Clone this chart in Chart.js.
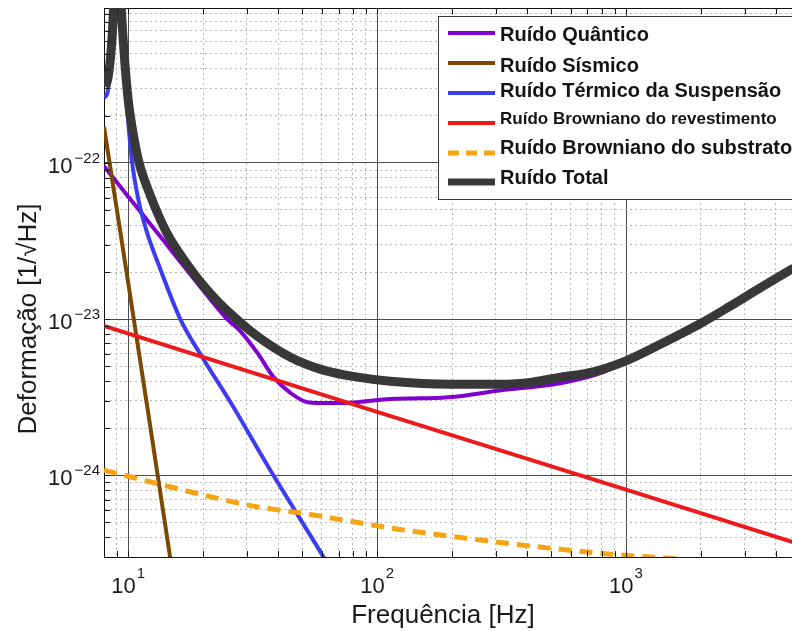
<!DOCTYPE html>
<html><head><meta charset="utf-8">
<script src="https://cdn.jsdelivr.net/npm/chart.js@4.4.1/dist/chart.umd.min.js"></script>
<style>
html,body{margin:0;padding:0;background:#fff;overflow:hidden;width:792px;height:631px}
#wrap{width:792px;height:631px;overflow:hidden;position:relative}
canvas{display:block}
</style></head>
<body><div id="wrap"><canvas id="c" width="800" height="631"></canvas></div>
<script>
// ---------------- data ----------------
const seriesLabels = ['Ruído Quântico','Ruído Sísmico','Ruído Térmico da Suspensão','Ruído Browniano do revestimento','Ruído Browniano do substrato','Ruído Total'];

const quantumHz = [8, 10, 12, 15, 20, 25, 28, 33, 38.4, 45, 52.6, 65, 83.5, 113, 150, 200, 314, 500, 620, 800, 1000, 1400, 2000, 2600, 3500, 4600, 5000];
const quantumStrain = [9.5e-23, 6.1e-23, 4.25e-23, 2.72e-23, 1.53e-23, 1.0e-23, 8.5e-24, 6.1e-24, 4.25e-24, 3.36e-24, 2.94e-24, 2.9e-24, 2.94e-24, 3.08e-24, 3.11e-24, 3.17e-24, 3.5e-24, 3.8e-24, 4.06e-24, 4.55e-24, 5.35e-24, 6.9e-24, 9.35e-24, 1.19e-23, 1.59e-23, 2.06e-23, 2.22e-23];

const seismicHz = [8, 10, 12, 15];
const seismicStrain = [1.7e-22, 1.72e-23, 2.6e-24, 2.5e-25];

const suspensionHz = [8, 8.3, 8.6, 8.8, 9.03, 9.3, 9.6, 10, 10.38, 11, 11.9, 13.45, 16.2, 20, 26, 36.6, 47.9, 60.9, 66];
const suspensionStrain = [2.6e-22, 2.9e-22, 4.8e-22, 1.05e-21, 4.5e-21, 1.05e-21, 4.2e-22, 1.85e-22, 1.0e-22, 5.8e-23, 3.6e-23, 2.1e-23, 1.0e-23, 5.6e-24, 2.87e-24, 1.13e-24, 5.6e-25, 3.0e-25, 2.4e-25];

const coatingHz = [8, 100, 1000, 5000];
const coatingStrain = [9.05e-24, 2.55e-24, 8.1e-25, 3.62e-25];

const substrateHz = [8, 13.45, 22, 33.9, 47.9, 66.9, 116, 216, 425, 846, 1300, 2000];
const substrateStrain = [1.08e-24, 8.75e-25, 7.22e-25, 6.23e-25, 5.79e-25, 5.3e-25, 4.57e-25, 4.0e-25, 3.51e-25, 3.14e-25, 2.99e-25, 2.85e-25];

const totalHz = [8, 8.3, 8.6, 8.8, 9.03, 9.3, 9.6, 10, 10.5, 11.07, 12, 14.3, 17, 20, 23, 26.7, 33, 44.9, 60.9, 83.5, 113, 198, 314, 420, 547, 740, 1000, 1400, 2000, 2600, 3500, 4600, 5000];
const totalStrain = [3.1e-22, 3.5e-22, 6.0e-22, 1.3e-21, 5e-21, 1.3e-21, 5.5e-22, 2.55e-22, 1.51e-22, 1.0e-22, 6.8e-23, 3.56e-23, 2.32e-23, 1.65e-23, 1.29e-23, 1.03e-23, 7.78e-24, 5.7e-24, 4.71e-24, 4.25e-24, 4.0e-24, 3.83e-24, 3.83e-24, 3.95e-24, 4.25e-24, 4.6e-24, 5.4e-24, 7.0e-24, 9.4e-24, 1.2e-23, 1.6e-23, 2.07e-23, 2.23e-23];

// axis ranges and ticks
const xRange = [8, 5000];
const yRange = [3e-25, 9.8e-22];
const xMajorTicks = [10, 100, 1000];
const xMinorTicks = [9, 20, 30, 40, 50, 60, 70, 80, 90, 200, 300, 400, 500, 600, 700, 800, 900, 2000, 3000, 4000];
const yMajorTicks = [1e-22, 1e-23, 1e-24];
const yMinorTicks = [4e-25, 5e-25, 6e-25, 7e-25, 8e-25, 9e-25, 2e-24, 3e-24, 4e-24, 5e-24, 6e-24, 7e-24, 8e-24, 9e-24, 2e-23, 3e-23, 4e-23, 5e-23, 6e-23, 7e-23, 8e-23, 9e-23, 2e-22, 3e-22, 4e-22, 5e-22, 6e-22, 7e-22, 8e-22, 9e-22];
const xTickExponents = ['1', '2', '3'];
const yTickExponents = ['\u221222', '\u221223', '\u221224'];
const xTitle = 'Frequência [Hz]';
const yTitle = 'Deformação [1/\u221AHz]';

// ---------------- chart ----------------
const FONT = '"Liberation Sans", Arial, Helvetica, sans-serif';
Chart.defaults.font.family = FONT;

const pts = (xs, ys) => xs.map((x, i) => ({x, y: ys[i]}));
const styles = [
  {color: '#8000d2', width: 4, dash: [], mono: true},
  {color: '#7a4a04', width: 4, dash: [], mono: false},
  {color: '#3c3cf0', width: 4, dash: [], mono: true},
  {color: '#ec1a1a', width: 4, dash: [], mono: false},
  {color: '#f5a514', width: 5, dash: [13, 8], mono: true},
  {color: '#383838', width: 9, dash: [], mono: true}
];
const seriesData = [
  pts(quantumHz, quantumStrain),
  pts(seismicHz, seismicStrain),
  pts(suspensionHz, suspensionStrain),
  pts(coatingHz, coatingStrain),
  pts(substrateHz, substrateStrain),
  pts(totalHz, totalStrain)
];

const datasets = seriesData.map((d, i) => ({
  label: seriesLabels[i],
  data: d,
  borderColor: styles[i].color,
  backgroundColor: styles[i].color,
  borderWidth: styles[i].width,
  borderDash: styles[i].dash,
  pointRadius: 0,
  fill: false,
  clip: 0,
  borderJoinStyle: 'round',
  cubicInterpolationMode: styles[i].mono ? 'monotone' : 'default',
  tension: 0,
  order: seriesData.length - 1 - i
}));

const setTicks = (vals) => (s) => { s.ticks = vals.map(v => ({value: v})); };

const decor = {
  id: 'decor',
  afterDraw(chart) {
    const {ctx, chartArea: a} = chart;
    const x = chart.scales.x, y = chart.scales.y;
    ctx.save();
    // inward tick marks
    ctx.strokeStyle = '#1a1a1a';
    ctx.lineWidth = 1;
    ctx.beginPath();
    const tl = 6;
    [...xMinorTicks, ...xMajorTicks].forEach(v => {
      const px = Math.round(x.getPixelForValue(v)) + 0.5;
      ctx.moveTo(px, a.bottom); ctx.lineTo(px, a.bottom - tl);
      ctx.moveTo(px, a.top); ctx.lineTo(px, a.top + tl);
    });
    [...yMinorTicks, ...yMajorTicks].forEach(v => {
      const py = Math.round(y.getPixelForValue(v)) + 0.5;
      ctx.moveTo(a.left, py); ctx.lineTo(a.left + tl, py);
      ctx.moveTo(a.right, py); ctx.lineTo(a.right - tl, py);
    });
    ctx.stroke();

    // tick labels 10^n
    ctx.fillStyle = '#1a1a1a';
    ctx.textBaseline = 'alphabetic';
    const big = '22px ' + FONT, small = '15px ' + FONT;
    xMajorTicks.forEach((v, i) => {
      const px = x.getPixelForValue(v);
      ctx.font = big; const wb = ctx.measureText('10').width;
      ctx.font = small; const ws = ctx.measureText(xTickExponents[i]).width;
      const start = px - (wb + ws + 1) / 2;
      ctx.font = big; ctx.textAlign = 'left';
      ctx.fillText('10', start, a.bottom + 36);
      ctx.font = small;
      ctx.fillText(xTickExponents[i], start + wb + 1, a.bottom + 21);
    });
    yMajorTicks.forEach((v, i) => {
      const py = y.getPixelForValue(v);
      ctx.font = small; const ws = ctx.measureText(yTickExponents[i]).width;
      ctx.textAlign = 'right';
      ctx.fillText(yTickExponents[i], a.left - 4, py);
      ctx.font = big;
      ctx.fillText('10', a.left - 4 - ws - 2, py + 10);
    });

    // axis titles
    ctx.font = '26px ' + FONT;
    ctx.textAlign = 'center';
    ctx.fillText(xTitle, 443, 623);
    ctx.save();
    ctx.translate(36, 319);
    ctx.rotate(-Math.PI / 2);
    ctx.fillText(yTitle, 0, 0);
    ctx.restore();

    // legend
    const box = {l: 438.5, t: 16.5, r: 810, b: 199.5};
    ctx.fillStyle = '#ffffff';
    ctx.fillRect(box.l, box.t, box.r - box.l, box.b - box.t);
    ctx.strokeStyle = '#3a3a3a';
    ctx.lineWidth = 1;
    ctx.strokeRect(box.l, box.t, box.r - box.l, box.b - box.t);
    const rows = [
      {lineY: 33, base: 41, font: 'bold 20px ' + FONT, lw: 4},
      {lineY: 63, base: 72, font: 'bold 20px ' + FONT, lw: 4},
      {lineY: 93, base: 97, font: 'bold 20px ' + FONT, lw: 4},
      {lineY: 123, base: 124, font: 'bold 17px ' + FONT, lw: 4},
      {lineY: 153, base: 154, font: 'bold 20px ' + FONT, lw: 5},
      {lineY: 182, base: 184, font: 'bold 20px ' + FONT, lw: 7}
    ];
    chart.data.datasets.forEach((ds, i) => {
      const r = rows[i];
      ctx.strokeStyle = ds.borderColor;
      ctx.lineWidth = r.lw;
      ctx.setLineDash(ds.borderDash && ds.borderDash.length ? [11, 7] : []);
      ctx.beginPath();
      ctx.moveTo(448, r.lineY); ctx.lineTo(495, r.lineY);
      ctx.stroke();
      ctx.setLineDash([]);
      ctx.fillStyle = '#141414';
      ctx.font = r.font;
      ctx.textAlign = 'left';
      ctx.fillText(ds.label, 500, r.base);
    });
    ctx.restore();
  }
};

const majorGrid = '#4e4e4e';
const minorGrid = '#b8b8b8';

new Chart(document.getElementById('c'), {
  type: 'line',
  data: {datasets},
  options: {
    responsive: false,
    animation: false,
    devicePixelRatio: 1,
    events: [],
    layout: {padding: {top: 8, left: 0, right: 0, bottom: 0}},
    plugins: {legend: {display: false}, tooltip: {enabled: false}, title: {display: false}},
    scales: {
      x: {
        type: 'logarithmic', position: 'bottom', min: xRange[0], max: xRange[1],
        afterBuildTicks: setTicks(xMinorTicks),
        ticks: {display: false},
        grid: {color: minorGrid, lineWidth: 1, drawTicks: false},
        border: {display: true, color: '#111', width: 1, dash: [2, 3]},
        afterFit: s => { s.height = 74; }
      },
      x2: {
        type: 'logarithmic', position: 'top', min: xRange[0], max: xRange[1],
        afterBuildTicks: setTicks(xMajorTicks),
        ticks: {display: false},
        grid: {color: majorGrid, lineWidth: 1, drawTicks: false},
        border: {display: true, color: '#111', width: 1},
        afterFit: s => { s.height = 0; }
      },
      y: {
        type: 'logarithmic', position: 'left', min: yRange[0], max: yRange[1],
        afterBuildTicks: setTicks(yMinorTicks),
        ticks: {display: false},
        grid: {color: minorGrid, lineWidth: 1, drawTicks: false},
        border: {display: true, color: '#111', width: 1, dash: [2, 3]},
        afterFit: s => { s.width = 104; }
      },
      y2: {
        type: 'logarithmic', position: 'right', min: yRange[0], max: yRange[1],
        afterBuildTicks: setTicks(yMajorTicks),
        ticks: {display: false},
        grid: {color: majorGrid, lineWidth: 1, drawTicks: false},
        border: {display: true, color: '#111', width: 1},
        afterFit: s => { s.width = 0; }
      }
    }
  },
  plugins: [decor]
});
</script>
</body></html>
